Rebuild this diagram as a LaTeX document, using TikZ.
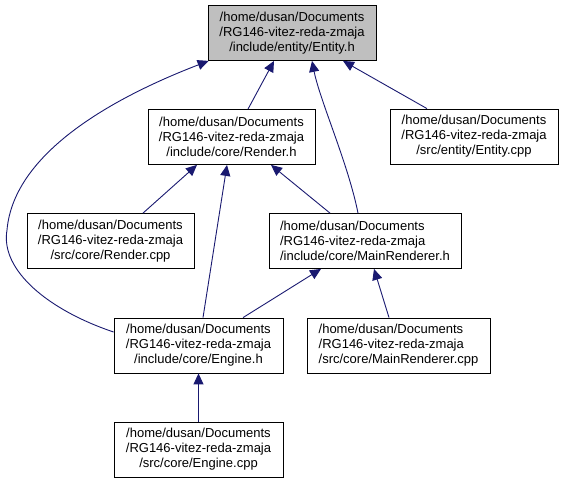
\documentclass[tikz,border=0pt]{standalone}
\usepackage{fontspec}
\setmainfont{Liberation Sans}
\usetikzlibrary{arrows.meta}
\definecolor{edgecol}{HTML}{191970}
\definecolor{hlfill}{HTML}{BFBFBF}
\begin{document}
\begin{tikzpicture}[x=1pt,y=-1pt,
  box/.style={draw=black, line width=0.8pt, minimum height=55pt, inner sep=0pt,
    align=center, font=\fontsize{13}{15}\selectfont},
  boxl/.style={box, align=left},
  dep/.style={draw=edgecol, line width=0.9pt, -{Triangle[length=11pt,width=10pt]}}]
\useasboundingbox (0,0) rectangle (564,483);

\node[box, fill=hlfill, minimum width=168pt] (entityh) at (292,33)
  {/home/dusan/Documents\\/RG146-vitez-reda-zmaja\\/include/entity/Entity.h};
\node[box, minimum width=167pt] (renderh) at (231.5,137)
  {/home/dusan/Documents\\/RG146-vitez-reda-zmaja\\/include/core/Render.h};
\node[box, minimum width=168pt] (entitycpp) at (474,136.5)
  {/home/dusan/Documents\\/RG146-vitez-reda-zmaja\\/src/entity/Entity.cpp};
\node[box, minimum width=167pt] (rendercpp) at (110.5,241)
  {/home/dusan/Documents\\/RG146-vitez-reda-zmaja\\/src/core/Render.cpp};
\node[boxl, minimum width=192pt] (mainrh) at (365,241)
  {/home/dusan/Documents\\/RG146-vitez-reda-zmaja\\/include/core/MainRenderer.h};
\node[box, minimum width=169pt] (engineh) at (198.5,345.5)
  {/home/dusan/Documents\\/RG146-vitez-reda-zmaja\\/include/core/Engine.h};
\node[boxl, minimum width=183pt] (mainrcpp) at (398.5,345.5)
  {/home/dusan/Documents\\/RG146-vitez-reda-zmaja\\/src/core/MainRenderer.cpp};
\node[box, minimum width=169pt] (enginecpp) at (198.5,449.5)
  {/home/dusan/Documents\\/RG146-vitez-reda-zmaja\\/src/core/Engine.cpp};

\draw[dep] ([xshift=16.5pt]renderh.north) -- ([xshift=-18pt]entityh.south);
\draw[dep] ([yshift=13.5pt]engineh.west) .. controls (48,310) and (0,270) .. (7,230)
  .. controls (14,150) and (120,95) .. ([xshift=1pt]entityh.south west);
\draw[dep] ([xshift=-47pt]entitycpp.north) -- ([xshift=51pt]entityh.south);
\draw[dep] ([xshift=-7pt]mainrh.north) .. controls +(-10,-50) and +(8,40) .. ([xshift=20pt]entityh.south);
\draw[dep] ([xshift=32.5pt]rendercpp.north) -- ([xshift=-34.5pt]renderh.south);
\draw[dep] ([xshift=4.5pt]engineh.north) -- ([xshift=-4.5pt]renderh.south);
\draw[dep] ([xshift=-35pt]mainrh.north) -- ([xshift=39.5pt]renderh.south);
\draw[dep] ([xshift=44.5pt]engineh.north) -- ([xshift=-44pt]mainrh.south);
\draw[dep] ([xshift=-9.5pt]mainrcpp.north) -- ([xshift=9pt]mainrh.south);
\draw[dep] (enginecpp.north) -- (engineh.south);
\end{tikzpicture}
\end{document}
